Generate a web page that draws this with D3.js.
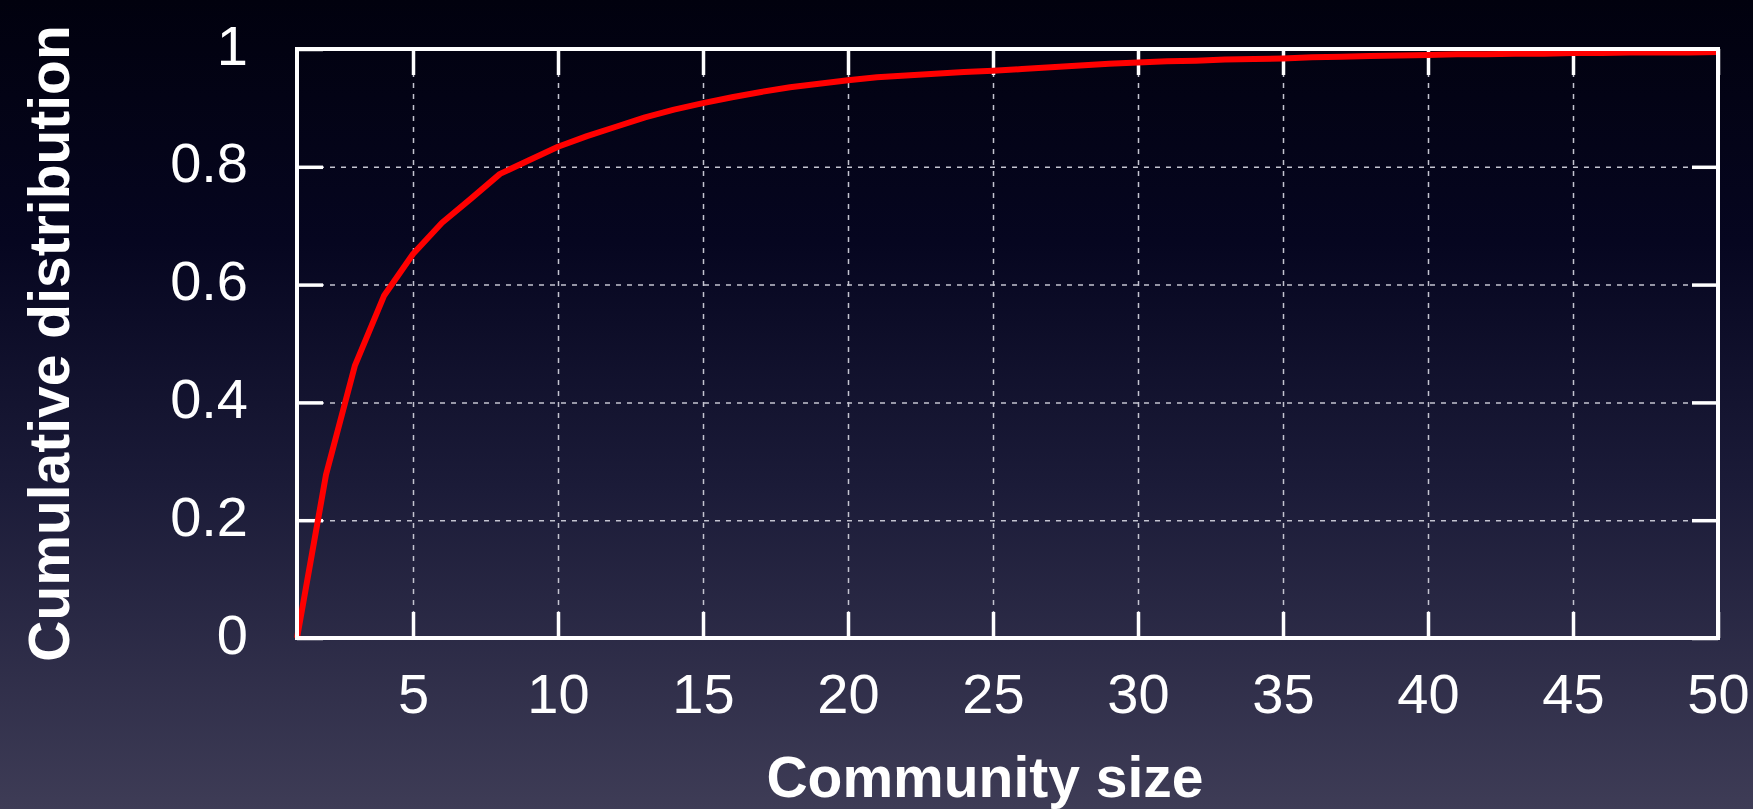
<!DOCTYPE html>
<html>
<head>
<meta charset="utf-8">
<script src="https://cdn.jsdelivr.net/npm/d3@7"></script>
<style>
  html, body { margin: 0; padding: 0; background: #0a0a22; }
  svg { display: block; }
  text { font-family: "Liberation Sans", Arial, Helvetica, sans-serif; fill: #fff; }
</style>
</head>
<body>
<div id="chart"></div>
<script>
// community size (x) and cumulative fraction (y)
var sizes = [1, 2, 3, 4, 5, 6, 7, 8, 9, 10,
             11, 12, 13, 14, 15, 16, 17, 18, 19, 20,
             21, 22, 23, 24, 25, 26, 27, 28, 29, 30,
             31, 32, 33, 34, 35, 36, 37, 38, 39, 40,
             41, 42, 43, 44, 45, 46, 47, 48, 49, 50];
var cdf = [0, 0.277, 0.463, 0.581, 0.652, 0.705, 0.746, 0.788, 0.811, 0.834,
           0.852, 0.868, 0.884, 0.897, 0.908, 0.918, 0.927, 0.935, 0.941, 0.947,
           0.952, 0.955, 0.958, 0.961, 0.963, 0.966, 0.969, 0.972, 0.975, 0.977,
           0.979, 0.980, 0.982, 0.983, 0.984, 0.986, 0.987, 0.988, 0.989, 0.990,
           0.991, 0.991, 0.992, 0.992, 0.993, 0.993, 0.994, 0.994, 0.994, 0.995];
var xTicks = [5, 10, 15, 20, 25, 30, 35, 40, 45, 50];
var yTicks = [0, 0.2, 0.4, 0.6, 0.8, 1];
var xTitle = "Community size";
var yTitle = "Cumulative distribution";

var width = 1753,
    height = 809;
var margin = {top: 49, right: 35, bottom: 171, left: 297};
var w = width - margin.left - margin.right,
    h = height - margin.top - margin.bottom;
var tick = 26;

var svg = d3.select("#chart").append("svg")
    .attr("width", width)
    .attr("height", height);

// slide background
var grad = svg.append("defs").append("linearGradient")
    .attr("id", "bg")
    .attr("x1", 0).attr("y1", 0).attr("x2", 0).attr("y2", 1);
grad.append("stop").attr("offset", "0").attr("stop-color", "#01010e");
grad.append("stop").attr("offset", "0.3").attr("stop-color", "#060620");
grad.append("stop").attr("offset", "0.6").attr("stop-color", "#1b1b38");
grad.append("stop").attr("offset", "1").attr("stop-color", "#3e3c56");
svg.append("rect")
    .attr("width", width)
    .attr("height", height)
    .attr("fill", "url(#bg)");

var g = svg.append("g")
    .attr("transform", "translate(" + margin.left + "," + margin.top + ")");

var x = d3.scaleLinear().domain([1, 50]).range([0, w]);
var y = d3.scaleLinear().domain([0, 1]).range([h, 0]);

// dashed grid
g.append("g")
    .attr("class", "grid")
    .attr("transform", "translate(0," + h + ")")
    .call(d3.axisBottom(x).tickValues(xTicks.slice(0, -1)).tickSize(-h).tickFormat(""));
g.append("g")
    .attr("class", "grid")
    .call(d3.axisLeft(y).tickValues(yTicks.slice(1, -1)).tickSize(-w).tickFormat(""));
g.selectAll(".grid .domain").remove();
g.selectAll(".grid line")
    .attr("stroke", "#c4c4d0")
    .attr("stroke-width", 1.5)
    .attr("stroke-dasharray", "5,6");

// inward ticks on all four sides
var inner = function(sel) {
  sel.select(".domain").remove();
  sel.selectAll("line").attr("stroke", "#fff").attr("stroke-width", 3.5);
};
var xb = g.append("g")
    .attr("transform", "translate(0," + h + ")")
    .call(d3.axisBottom(x).tickValues(xTicks).tickSize(-tick).tickFormat(d3.format("d")))
    .call(inner);
xb.selectAll("text")
    .attr("dy", null)
    .attr("y", 75)
    .style("font-size", "56px")
    .attr("fill", "#fff");

g.append("g")
    .call(d3.axisTop(x).tickValues(xTicks).tickSize(-tick).tickFormat(""))
    .call(inner);

var yl = g.append("g")
    .call(d3.axisLeft(y).tickValues(yTicks).tickSize(-tick).tickPadding(49)
      .tickFormat(function(d) { return d === 0 || d === 1 ? d3.format("d")(d) : d3.format(".1f")(d); }))
    .call(inner);
yl.selectAll("text")
    .attr("dy", null)
    .attr("y", 15)
    .style("font-size", "56px")
    .attr("fill", "#fff");

g.append("g")
    .attr("transform", "translate(" + w + ",0)")
    .call(d3.axisRight(y).tickValues(yTicks).tickSize(-tick).tickFormat(""))
    .call(inner);

// the curve
var line = d3.line()
    .x(function(d, i) { return x(sizes[i]); })
    .y(function(d) { return y(d); });

g.append("path")
    .datum(cdf)
    .attr("d", line)
    .attr("fill", "none")
    .attr("stroke", "#ff0000")
    .attr("stroke-width", 6)
    .attr("stroke-linejoin", "round");

// frame
g.append("rect")
    .attr("width", w)
    .attr("height", h)
    .attr("fill", "none")
    .attr("stroke", "#fff")
    .attr("stroke-width", 4);

// axis titles
svg.append("text")
    .attr("x", 985)
    .attr("y", 797)
    .attr("text-anchor", "middle")
    .style("font-size", "57px")
    .style("font-weight", "bold")
    .text(xTitle);

svg.append("text")
    .attr("transform", "translate(69," + (margin.top + h / 2) + ") rotate(-90)")
    .attr("text-anchor", "middle")
    .style("font-size", "57px")
    .style("font-weight", "bold")
    .text(yTitle);
</script>
</body>
</html>
